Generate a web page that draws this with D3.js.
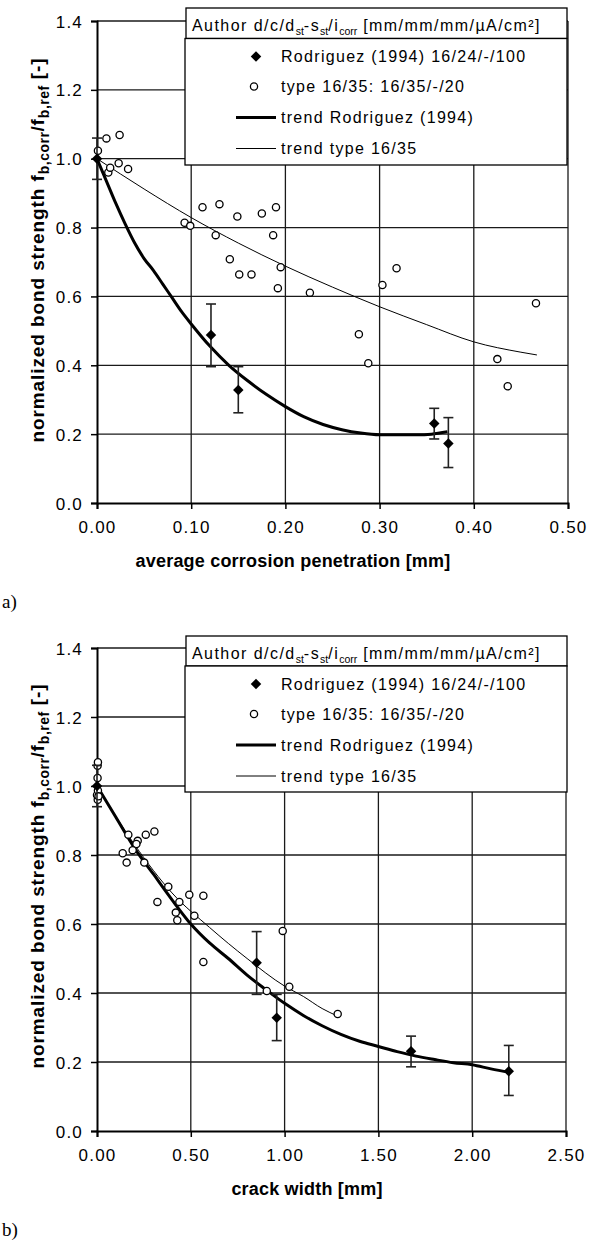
<!DOCTYPE html>
<html><head><meta charset="utf-8">
<script src="https://cdn.jsdelivr.net/npm/d3@7"></script>
<style>body{margin:0;background:#fff}</style>
</head><body>
<svg id="c" width="590" height="1252"></svg>
<script>
// ---------- data ----------
const yTicks = [0, 0.2, 0.4, 0.6, 0.8, 1.0, 1.2, 1.4];
const xTicksA = [0, 0.1, 0.2, 0.3, 0.4, 0.5];
const xTicksB = [0, 0.5, 1.0, 1.5, 2.0, 2.5];
const xTitleA = "average corrosion penetration [mm]";
const xTitleB = "crack width [mm]";
const panelLabels = ["a)", "b)"];
const legendLabels = ["Rodriguez (1994) 16/24/-/100", "type 16/35: 16/35/-/20", "trend Rodriguez (1994)", "trend type 16/35"];

// Rodriguez (1994) test results with scatter range
const rodY    = [1.0, 0.488, 0.328, 0.231, 0.173];
const rodLow  = [0.94, 0.396, 0.262, 0.186, 0.103];
const rodHigh = [1.06, 0.578, 0.396, 0.275, 0.248];
const rodPenetration = [0, 0.121, 0.150, 0.358, 0.373];
const rodCrack       = [0, 0.851, 0.958, 1.674, 2.195];

// type 16/35 test results
const typeY = [1.059, 1.023, 1.069, 0.960, 0.974, 0.987, 0.970, 0.868, 0.859, 0.859, 0.841, 0.832, 0.814, 0.805, 0.778, 0.778, 0.708, 0.685, 0.682, 0.664, 0.664, 0.633, 0.624, 0.611, 0.580, 0.490, 0.418, 0.406, 0.339];
const typePenetration = [0.010, 0.001, 0.024, 0.012, 0.014, 0.023, 0.033, 0.130, 0.112, 0.190, 0.175, 0.149, 0.093, 0.099, 0.126, 0.187, 0.141, 0.195, 0.318, 0.151, 0.164, 0.303, 0.192, 0.226, 0.466, 0.278, 0.425, 0.288, 0.436];
const typeCrack = [0.003, 0.003, 0.005, 0.004, 0.0, 0.005, 0.008, 0.306, 0.167, 0.260, 0.217, 0.210, 0.190, 0.137, 0.158, 0.252, 0.380, 0.492, 0.567, 0.322, 0.439, 0.420, 0.519, 0.428, 0.990, 0.567, 1.025, 0.905, 1.283];

// trend lines, panel a
const trendRodPenX = [0, 0.01, 0.02, 0.03, 0.04, 0.05, 0.06, 0.07, 0.08, 0.09, 0.10, 0.12, 0.14, 0.16, 0.18, 0.20, 0.22, 0.24, 0.26, 0.28, 0.30, 0.32, 0.34, 0.355, 0.372];
const trendRodPenY = [1.0, 0.935, 0.87, 0.81, 0.755, 0.71, 0.675, 0.635, 0.595, 0.555, 0.52, 0.455, 0.40, 0.355, 0.315, 0.28, 0.25, 0.228, 0.213, 0.203, 0.198, 0.198, 0.198, 0.2, 0.207];
const trendTypePenX = [0, 0.05, 0.10, 0.15, 0.20, 0.25, 0.30, 0.35, 0.40, 0.45, 0.467];
const trendTypePenY = [1.0, 0.912, 0.829, 0.755, 0.688, 0.627, 0.570, 0.518, 0.468, 0.438, 0.430];
// trend lines, panel b
const trendRodCrackX = [0, 0.1, 0.2, 0.3, 0.4, 0.5, 0.6, 0.7, 0.8, 0.9, 1.0, 1.1, 1.2, 1.3, 1.4, 1.5, 1.6, 1.7, 1.8, 1.9, 2.0, 2.1, 2.2];
const trendRodCrackY = [1.0, 0.91, 0.82, 0.745, 0.67, 0.60, 0.545, 0.50, 0.452, 0.41, 0.37, 0.335, 0.305, 0.28, 0.26, 0.245, 0.23, 0.217, 0.207, 0.198, 0.192, 0.18, 0.17];
const trendTypeCrackX = [0, 0.2, 0.4, 0.6, 0.8, 1.0, 1.1, 1.2, 1.283];
const trendTypeCrackY = [1.0, 0.83, 0.69, 0.59, 0.50, 0.42, 0.39, 0.355, 0.333];

// ---------- drawing ----------
const svg = d3.select("#c");
const FONT = "'Liberation Sans', Arial, sans-serif";

function drawPanel(cfg) {
  const g = svg.append("g");
  const x = d3.scaleLinear().domain(cfg.xDomain).range([cfg.left, cfg.right]);
  const y = d3.scaleLinear().domain([0, 1.4]).range([cfg.bottom, cfg.top]);

  // grid
  g.append("g").selectAll("line").data(yTicks.slice(1)).join("line")
    .attr("x1", cfg.left).attr("x2", cfg.right).attr("y1", d => y(d)).attr("y2", d => y(d))
    .attr("stroke", "#1a1a1a").attr("stroke-width", 1.3);
  g.append("g").selectAll("line").data(cfg.xTicks.slice(1)).join("line")
    .attr("x1", d => x(d)).attr("x2", d => x(d)).attr("y1", cfg.top).attr("y2", cfg.bottom)
    .attr("stroke", "#1a1a1a").attr("stroke-width", 1.3);

  // axes
  const ax = g.append("g").attr("transform", `translate(0,${cfg.bottom})`)
    .call(d3.axisBottom(x).tickValues(cfg.xTicks).tickFormat(d3.format(".2f")).tickSize(6).tickPadding(12));
  const ay = g.append("g").attr("transform", `translate(${cfg.left},0)`)
    .call(d3.axisLeft(y).tickValues(yTicks).tickFormat(d3.format(".1f")).tickSize(6).tickPadding(8));
  [ax, ay].forEach(a => {
    a.select(".domain").attr("stroke", "#000").attr("stroke-width", 2);
    a.selectAll(".tick line").attr("stroke", "#000").attr("stroke-width", 1.5);
    a.selectAll(".tick text").attr("fill", "#000").style("font-family", FONT)
      .style("font-size", "17px").style("letter-spacing", "1.2px");
  });
  ax.selectAll(".tick text").attr("dy", "0.71em");
  ay.selectAll(".tick text").attr("dy", "0.36em");

  // trend lines
  const line = d3.line().x(d => x(d[0])).y(d => y(d[1])).curve(d3.curveMonotoneX);
  g.append("path").datum(d3.zip(cfg.trendTypeX, cfg.trendTypeY)).attr("d", line)
    .attr("fill", "none").attr("stroke", "#000").attr("stroke-width", 1);
  g.append("path").datum(d3.zip(cfg.trendRodX, cfg.trendRodY)).attr("d", line)
    .attr("fill", "none").attr("stroke", "#000").attr("stroke-width", 3);

  // type 16/35 circles
  g.append("g").selectAll("circle").data(d3.zip(cfg.typeX, typeY)).join("circle")
    .attr("cx", d => x(d[0])).attr("cy", d => y(d[1])).attr("r", 3.6)
    .attr("fill", "#fff").attr("stroke", "#000").attr("stroke-width", 1.3);

  // Rodriguez error bars & diamonds
  const rod = cfg.rodX.map((v, i) => ({x: v, y: rodY[i], lo: rodLow[i], hi: rodHigh[i]}));
  const eb = g.append("g").attr("stroke", "#222").attr("stroke-width", 1.6);
  eb.selectAll(".v").data(rod).join("line").attr("class", "v")
    .attr("x1", d => x(d.x)).attr("x2", d => x(d.x)).attr("y1", d => y(d.lo)).attr("y2", d => y(d.hi));
  eb.selectAll(".lo").data(rod).join("line").attr("class", "lo")
    .attr("x1", d => x(d.x) - 5).attr("x2", d => x(d.x) + 5).attr("y1", d => y(d.lo)).attr("y2", d => y(d.lo));
  eb.selectAll(".hi").data(rod).join("line").attr("class", "hi")
    .attr("x1", d => x(d.x) - 5).attr("x2", d => x(d.x) + 5).attr("y1", d => y(d.hi)).attr("y2", d => y(d.hi));
  const diamond = d3.symbol().type(d3.symbolDiamond2).size(70);
  g.append("g").selectAll("path").data(rod).join("path")
    .attr("d", diamond).attr("transform", d => `translate(${x(d.x)},${y(d.y)})`).attr("fill", "#000");

  // legend
  const L = cfg.legend;
  const lg = g.append("g");
  lg.append("rect").attr("x", L.x).attr("y", L.y).attr("width", L.w).attr("height", L.hh)
    .attr("fill", "#fff").attr("stroke", "#000").attr("stroke-width", 1.3);
  lg.append("rect").attr("x", L.x - 1).attr("y", L.y + L.hh).attr("width", L.w + 1).attr("height", L.bh)
    .attr("fill", "#fff").attr("stroke", "#000").attr("stroke-width", 1.3);
  const ht = lg.append("text").attr("x", L.x + 6).attr("y", L.y + 22.5)
    .style("font-family", FONT).style("font-size", "16px").style("letter-spacing", "1.45px").attr("fill", "#000");
  const parts = [["Author d/c/d", 0], ["st", 1], ["-s", 0], ["st", 1], ["/i", 0], ["corr", 1], [" [mm/mm/mm/\u00b5A/cm\u00b2]", 0]];
  let prevSub = 0;
  parts.forEach(([t, s]) => {
    const tsp = ht.append("tspan").text(t);
    if (s !== prevSub) tsp.attr("dy", s ? 4 : -4);
    if (s) tsp.style("font-size", "10.5px").style("letter-spacing", "0px");
    prevSub = s;
  });
  const rows = [L.y + L.hh + 18, L.y + L.hh + 48, L.y + L.hh + 79, L.y + L.hh + 110];
  const sx = L.x + 70;
  lg.append("path").attr("d", diamond).attr("transform", `translate(${sx},${rows[0]})`).attr("fill", "#000");
  lg.append("circle").attr("cx", sx - 2).attr("cy", rows[1]).attr("r", 3.6)
    .attr("fill", "#fff").attr("stroke", "#000").attr("stroke-width", 1.3);
  lg.append("line").attr("x1", sx - 20).attr("x2", sx + 20).attr("y1", rows[2]).attr("y2", rows[2])
    .attr("stroke", "#000").attr("stroke-width", 3);
  lg.append("line").attr("x1", sx - 20).attr("x2", sx + 20).attr("y1", rows[3]).attr("y2", rows[3])
    .attr("stroke", "#000").attr("stroke-width", 1);
  lg.selectAll(".lt").data(legendLabels).join("text").attr("class", "lt")
    .attr("x", sx + 25).attr("y", (d, i) => rows[i]).attr("dy", "0.36em")
    .style("font-family", FONT).style("font-size", "16px").style("letter-spacing", "1.3px")
    .attr("fill", "#000").text(d => d);

  // axis titles
  g.append("text").attr("x", cfg.xTitleX).attr("y", cfg.bottom + 64).attr("text-anchor", "middle")
    .style("font-family", FONT).style("font-size", "18px").style("font-weight", "bold")
    .style("letter-spacing", "0.2px").attr("fill", "#000").text(cfg.xTitle);
  const yt = g.append("text").attr("transform", `translate(44,${cfg.yTitleY}) rotate(-90)`)
    .attr("text-anchor", "middle").style("font-family", FONT).style("font-size", "19px")
    .style("font-weight", "bold").style("letter-spacing", "0.9px").attr("fill", "#000");
  const yparts = [["normalized bond strength f", 0], ["b,corr", 1], ["/f", 0], ["b,ref", 1], [" [-]", 0]];
  prevSub = 0;
  yparts.forEach(([t, s]) => {
    const tsp = yt.append("tspan").text(t);
    if (s !== prevSub) tsp.attr("dy", s ? 5 : -5);
    if (s) tsp.style("font-size", "14px").style("letter-spacing", "0.5px");
    prevSub = s;
  });

  // panel label
  g.append("text").attr("x", 2).attr("y", cfg.bottom + 105)
    .style("font-family", "'Liberation Serif', 'Times New Roman', serif").style("font-size", "19px")
    .attr("fill", "#000").text(cfg.panel);
}

drawPanel({
  xDomain: [0, 0.5], xTicks: xTicksA, left: 97, right: 568, top: 21, bottom: 503,
  rodX: rodPenetration, typeX: typePenetration,
  trendRodX: trendRodPenX, trendRodY: trendRodPenY, trendTypeX: trendTypePenX, trendTypeY: trendTypePenY,
  legend: {x: 186, y: 8, w: 381, hh: 30.5, bh: 126.5},
  xTitle: xTitleA, xTitleX: 293, yTitleY: 250, panel: panelLabels[0]
});
drawPanel({
  xDomain: [0, 2.5], xTicks: xTicksB, left: 97, right: 566, top: 648, bottom: 1131,
  rodX: rodCrack, typeX: typeCrack,
  trendRodX: trendRodCrackX, trendRodY: trendRodCrackY, trendTypeX: trendTypeCrackX, trendTypeY: trendTypeCrackY,
  legend: {x: 186, y: 636, w: 381, hh: 30, bh: 126},
  xTitle: xTitleB, xTitleX: 307, yTitleY: 876, panel: panelLabels[1]
});
</script>
</body></html>
